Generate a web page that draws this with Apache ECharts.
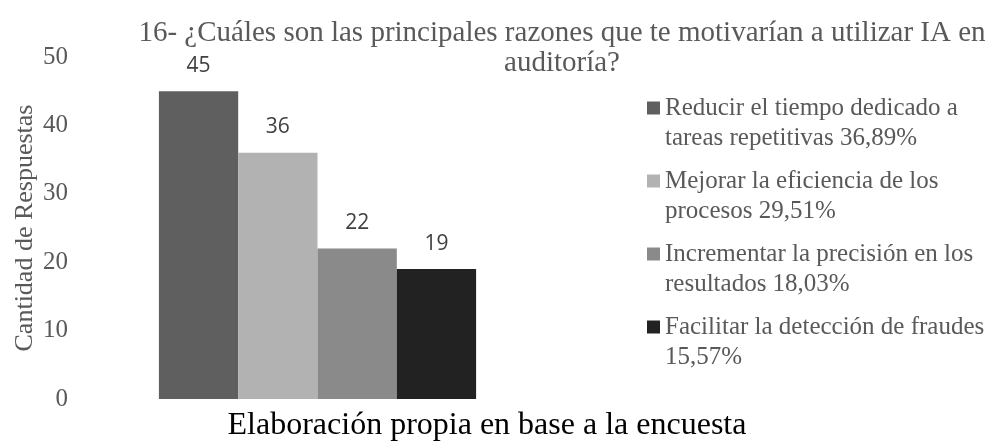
<!DOCTYPE html>
<html>
<head>
<meta charset="utf-8">
<script src="https://cdn.jsdelivr.net/npm/echarts@6/dist/echarts.min.js"></script>
<style>
  html, body { margin: 0; padding: 0; background: #fff; }
  #chart { width: 1004px; height: 443px; }
</style>
</head>
<body>
<div id="chart"></div>
<script>
// one category, one series per reason
const reasons = [
  'Reducir el tiempo dedicado a tareas repetitivas 36,89%',
  'Mejorar la eficiencia de los procesos 29,51%',
  'Incrementar la precisión en los resultados 18,03%',
  'Facilitar la detección de fraudes 15,57%'
]
const counts = [45, 36, 22, 19]
const colors = ['#5f5f5f', '#b2b2b2', '#8a8a8a', '#222222']
const categories = ['']

const serif = '"Liberation Serif", "Times New Roman", serif'
const grey = '#595959'

const chart = echarts.init(document.getElementById('chart'))

const series = reasons.map((name, i) => ({
  name: name,
  type: 'bar',
  barWidth: 79.3,
  barGap: 0,
  itemStyle: { color: colors[i] },
  label: {
    show: true,
    position: 'top',
    distance: 15,
    color: '#404040',
    fontFamily: '"Open Sans", sans-serif',
    fontSize: 21,
  },
  data: [counts[i]],
}))

chart.setOption({
  animation: false,
  grid: { left: 80, right: 449, top: 57, bottom: 44 },
  graphic: [
    {
      type: 'text',
      x: 562,
      y: 48,
      style: {
        text: '16- ¿Cuáles son las principales razones que te motivarían a utilizar IA en\nauditoría?',
        align: 'center',
        verticalAlign: 'middle',
        fill: grey,
        font: '29px ' + serif,
        lineHeight: 30,
      },
    },
    {
      type: 'text',
      x: 487,
      y: 426,
      style: {
        text: 'Elaboración propia en base a la encuesta',
        align: 'center',
        verticalAlign: 'middle',
        fill: '#000',
        font: '32px ' + serif,
      },
    },
  ],
  legend: {
    orient: 'vertical',
    left: 642,
    top: 58,
    itemWidth: 13,
    itemHeight: 13,
    itemGap: -17,
    icon: 'rect',
    // leading empty line keeps the marker level with the first text line
    formatter: (name) => '\n' + name,
    textStyle: {
      color: grey,
      fontFamily: serif,
      fontSize: 25,
      lineHeight: 30,
      width: 342,
      overflow: 'break',
    },
  },
  xAxis: {
    type: 'category',
    data: categories,
    axisLine: { show: false },
    axisTick: { show: false },
    axisLabel: { show: false },
  },
  yAxis: {
    type: 'value',
    min: 0,
    max: 50,
    interval: 10,
    name: 'Cantidad de Respuestas',
    nameLocation: 'middle',
    nameGap: 42,
    nameTextStyle: { color: grey, fontFamily: serif, fontSize: 26 },
    axisLine: { show: false },
    axisTick: { show: false },
    splitLine: { show: false },
    axisLabel: { color: grey, fontFamily: serif, fontSize: 25, margin: 12 },
  },
  series: series,
})
</script>
</body>
</html>
